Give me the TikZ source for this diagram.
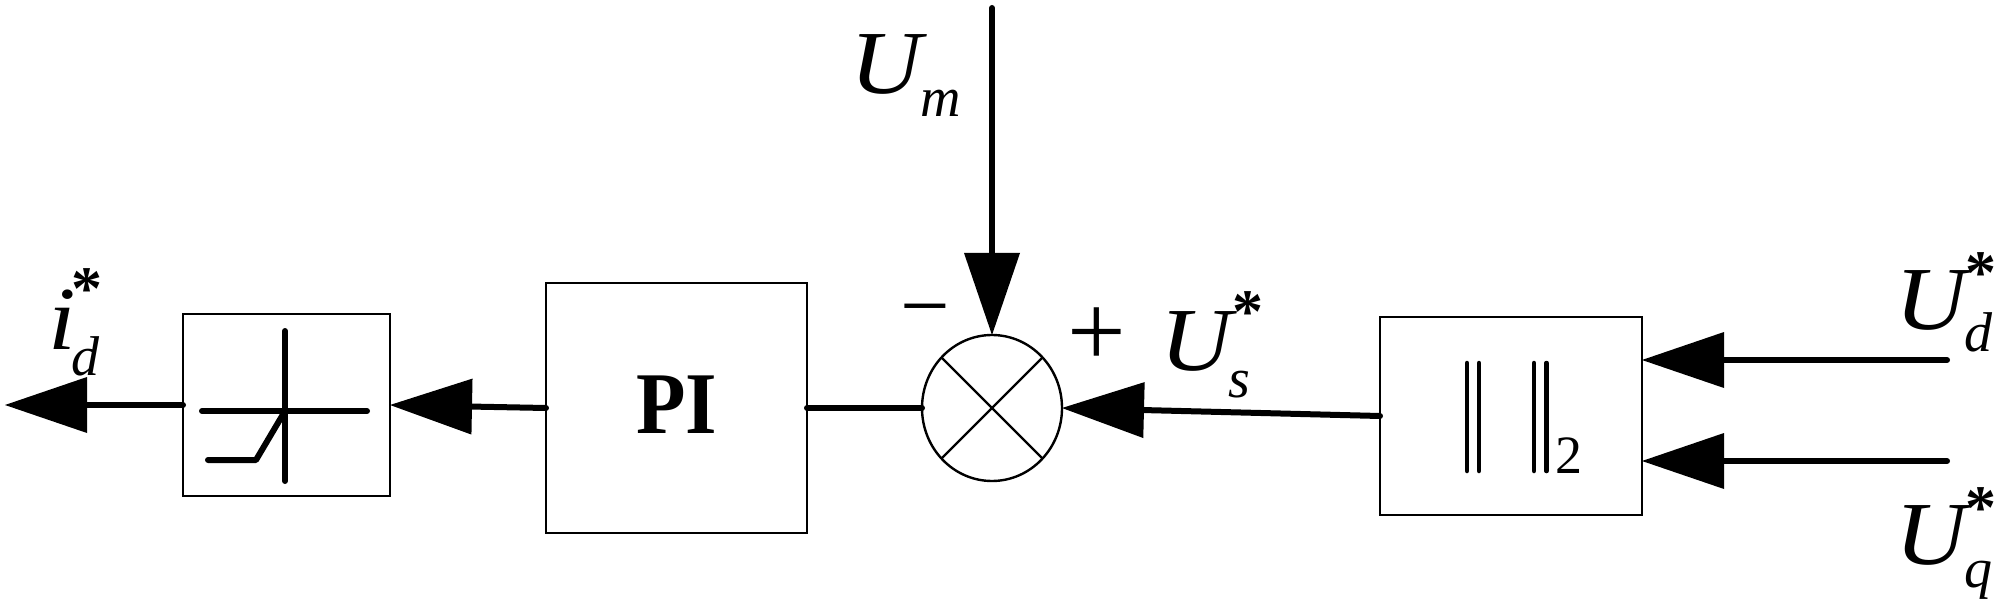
\documentclass[tikz,border=0pt]{standalone}
\usepackage{fontspec}
\setmainfont{Liberation Serif}
\usetikzlibrary{arrows.meta,shapes.geometric}
\newcommand{\fsz}[1]{\fontsize{#1}{#1}\selectfont}
\newsavebox{\symbase}
% base, sub, sub dx, sub dy, star (or empty), star dx, star raise
\newcommand{\symlabel}[7]{%
  \sbox{\symbase}{\scalebox{1.1}[1]{\fsz{90}\textit{#1}}}%
  \makebox[0pt][l]{\usebox{\symbase}}%
  \makebox[0pt][l]{\kern#3pt\raisebox{#4pt}{\fsz{56}\textit{#2}}}%
  \makebox[0pt][l]{\kern#6pt\raisebox{#7pt}{\fsz{62}\bfseries #5}}%
  \phantom{\usebox{\symbase}}}
\tikzset{
  x=1pt,y=-1pt,
  block/.style={draw=black,line width=2.4pt,fill=white,inner sep=0pt,outer sep=0pt,align=center},
  sumnode/.style={ellipse,draw=black,line width=2.4pt,fill=white,inner sep=0pt,outer sep=0pt,minimum width=140pt,minimum height=146pt},
  sig/.style={line width=6pt,line cap=round,-{Triangle[length=82pt,width=56pt,line width=0pt]}},
  plainsig/.style={line width=6pt,line cap=round},
  glyphline/.style={line width=6pt,line cap=round,line join=round},
  barline/.style={line width=4.5pt,line cap=round},
  crossline/.style={line width=2.4pt},
  lab/.style={anchor=base west,inner sep=0pt,outer sep=0pt},
}
\begin{document}
\begin{tikzpicture}
\useasboundingbox (0,0) rectangle (2000,604);
% blocks
\node[block,minimum width=207pt,minimum height=182pt] (limiter) at (286.5,405) {};
\node[block,minimum width=261pt,minimum height=250pt,font=\fsz{88}\bfseries] (pi) at (676.5,408) {\raisebox{6pt}{\scalebox{0.92}[1]{PI}}};
\node[sumnode] (sum) at (992,408) {};
\node[block,minimum width=262pt,minimum height=198pt] (norm) at (1511,416) {};
% terminals
\coordinate (out) at (5,405);
\coordinate (um) at (992,8);
\coordinate (ud) at (1947,360);
\coordinate (uq) at (1947,461);
% connectors
\draw[sig] (limiter.west) -- (out);
\draw[sig] (pi.west) -- (limiter.east);
\draw[plainsig] (pi.east) -- (sum.west);
\draw[sig] (um) -- (sum.north);
\draw[sig] (norm.west) -- (sum.east);
\draw[sig] (ud) -- (ud -| norm.east);
\draw[sig] (uq) -- (uq -| norm.east);
% summing cross
\draw[crossline] (sum.45) -- (sum.225);
\draw[crossline] (sum.135) -- (sum.315);
% limiter glyph
\draw[glyphline] (285,331) -- (285,481);
\draw[glyphline] (202,411) -- (367,411);
\draw[glyphline] (208,460) -- (256,460) -- (285,411);
% norm glyph
\draw[barline] (1467,363) -- (1467,471);
\draw[barline] (1479,363) -- (1479,471);
\draw[barline] (1534,363) -- (1534,471);
\draw[barline] (1546.5,363) -- (1546.5,471);
\node[lab,font=\fsz{54}] (two) at (1555,473) {2};
% labels
\node[lab] (lid) at (48,349) {\symlabel{i}{d}{23}{-26}{*}{24}{40}};
\node[lab] (lum) at (850,94) {\symlabel{U}{m}{70}{-23}{}{0}{0}};
\node[lab] (lus) at (1160,370) {\symlabel{U}{s}{68}{-27}{*}{72}{38}};
\node[lab] (lud) at (1895,329) {\symlabel{U}{d}{69}{-22}{*}{70}{36}};
\node[lab] (luq) at (1895,564) {\symlabel{U}{q}{69}{-23}{*}{70}{36}};
\node[inner sep=0pt,font=\fsz{88}] (minus) at (925,320) {\char"2212};
\node[inner sep=0pt,font=\fsz{104}] (plus) at (1097,337) {+};
\end{tikzpicture}
\end{document}
